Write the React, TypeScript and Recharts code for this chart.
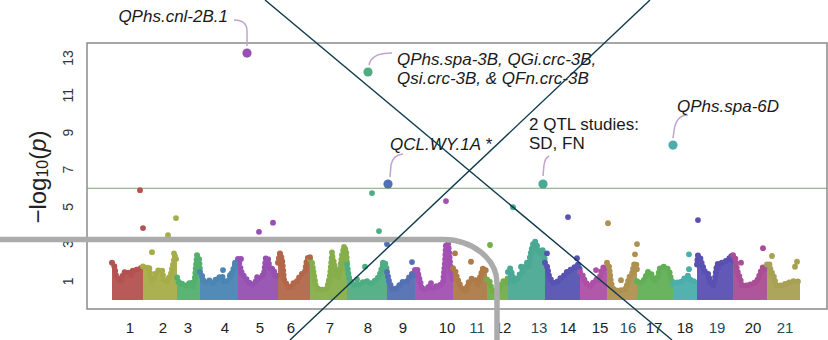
import { ComposedChart, Area, Scatter, XAxis, YAxis, ReferenceLine, ReferenceArea } from "recharts";

// chromosome order along the genome axis (cumulative position units)
const chromLabels = ["1", "2", "3", "4", "5", "6", "7", "8", "9", "10", "11", "12", "13", "14", "15", "16", "17", "18", "19", "20", "21"];
const chromTickPos = [43, 76, 101, 138, 173, 204, 243, 281, 316, 360, 390, 416, 452, 481, 513, 541, 567, 598, 630, 666, 698];
const chromColors = [
	"#b4524f", "#a6ad48", "#52b06c", "#4a85b4", "#9650b2", "#b3674a", "#86ae4b",
	"#4fad82", "#5270b4", "#a250b2", "#ae7a48", "#72ae4a", "#4aa992", "#5653b2",
	"#ad4fa6", "#ae9150", "#62af56", "#4aaeab", "#5a4fb2", "#a94d96", "#a8a052",
];
const tealTicks = ["11", "13", "16", "19", "21"];
const yTicks = [1, 3, 5, 7, 9, 11, 13];
const threshold = 6;

// upper edge of the dense SNP cloud, per chromosome: [position, -log10(p)]
const chromEnvelope: number[][][] = [
	[[25, 2.0], [27, 1.9], [29, 1.3], [32, 1.1], [34, 1.0], [36, 1.4], [38, 1.5], [41, 1.5], [44, 1.3], [46, 1.6], [49, 1.6], [52, 1.7], [55, 1.7], [56, 1.6]],
	[[56, 1.8], [59, 1.7], [62, 1.8], [64, 1.0], [67, 1.1], [69, 1.5], [72, 1.6], [75, 1.6], [77, 1.0], [80, 1.0], [82, 1.2], [84, 1.4], [86, 1.9], [88, 2.4], [90, 2.0]],
	[[90, 1.2], [92, 0.9], [96, 0.85], [100, 0.75], [104, 1.0], [106, 0.7], [108, 1.2], [110, 2.4], [112, 2.2], [113, 1.6]],
	[[113, 1.5], [115, 1.3], [117, 0.9], [120, 1.0], [123, 1.05], [126, 0.9], [129, 1.1], [132, 1.2], [135, 1.3], [137, 0.95], [140, 1.0], [143, 1.2], [146, 1.6], [148, 1.9], [151, 1.8]],
	[[151, 2.2], [153, 1.8], [155, 1.4], [158, 1.2], [161, 1.0], [164, 0.8], [167, 0.85], [170, 1.1], [174, 1.2], [177, 1.4], [179, 2.3], [181, 2.2], [183, 1.6], [186, 1.7], [189, 1.2], [191, 1.3]],
	[[191, 2.0], [193, 2.5], [195, 2.2], [197, 1.1], [200, 0.8], [203, 0.6], [206, 0.9], [209, 0.9], [212, 1.2], [215, 1.4], [218, 1.5], [220, 2.2], [222, 2.3], [223, 2.1]],
	[[223, 2.2], [225, 2.0], [227, 1.3], [229, 0.7], [232, 0.55], [236, 0.55], [240, 0.6], [243, 1.3], [245, 2.4], [247, 2.0], [249, 1.3], [251, 1.2], [253, 1.6], [255, 2.4], [257, 2.8], [259, 2.7], [260, 2.0]],
	[[260, 1.9], [262, 1.2], [265, 0.9], [268, 0.8], [271, 0.8], [274, 0.9], [278, 1.0], [281, 1.0], [284, 0.9], [287, 1.0], [290, 1.1], [293, 1.4], [296, 1.9], [298, 2.0], [300, 1.6]],
	[[300, 1.5], [302, 1.0], [305, 0.6], [308, 0.55], [311, 0.7], [314, 0.9], [317, 1.0], [320, 1.0], [323, 1.3], [326, 1.45], [328, 1.3]],
	[[328, 1.6], [330, 1.7], [332, 1.2], [335, 0.6], [338, 0.55], [341, 0.7], [344, 0.6], [347, 0.7], [350, 0.75], [353, 0.8], [356, 0.9], [358, 2.0], [359, 3.0], [361, 3.05], [362, 2.6], [364, 1.4], [366, 1.1]],
	[[366, 1.7], [368, 1.6], [370, 1.2], [373, 0.8], [376, 0.55], [379, 0.5], [382, 1.0], [385, 1.15], [388, 1.1], [391, 0.8], [393, 1.2], [396, 1.7], [398, 1.7], [400, 1.4]],
	[[400, 1.1], [402, 1.1], [404, 0.7], [406, 0.45], [409, 0.45], [412, 0.5], [414, 0.8], [416, 1.0], [418, 1.0], [420, 0.9], [421, 1.3]],
	[[421, 1.5], [423, 1.7], [425, 1.4], [427, 1.0], [430, 1.1], [433, 1.4], [436, 1.6], [439, 1.9], [441, 1.7], [443, 2.3], [445, 2.8], [447, 3.15], [449, 3.1], [451, 2.7], [453, 2.5], [455, 2.7], [457, 2.6], [458, 2.0]],
	[[458, 2.0], [460, 1.8], [462, 1.3], [465, 0.95], [468, 0.9], [471, 1.0], [474, 1.2], [477, 1.3], [480, 1.5], [483, 1.6], [486, 1.7], [489, 1.8], [491, 1.9], [493, 1.6]],
	[[493, 1.5], [495, 1.4], [498, 1.0], [501, 0.8], [504, 0.75], [507, 1.0], [510, 1.1], [512, 1.0], [514, 1.5], [517, 1.8], [520, 1.7]],
	[[520, 2.0], [522, 1.8], [524, 0.9], [527, 0.5], [530, 0.5], [533, 0.5], [536, 0.55], [539, 0.6], [541, 1.0], [543, 1.3], [545, 1.4], [547, 1.9], [549, 2.0], [550, 1.6]],
	[[550, 1.0], [553, 0.9], [556, 0.95], [559, 1.3], [561, 1.5], [564, 1.45], [567, 1.0], [570, 1.1], [573, 1.7], [576, 1.8], [579, 1.75], [582, 1.6], [584, 1.1], [586, 0.9]],
	[[586, 0.9], [589, 0.95], [592, 0.9], [595, 1.0], [598, 1.2], [601, 1.3], [604, 1.0], [607, 1.0], [610, 1.1]],
	[[610, 1.9], [611, 2.4], [613, 2.3], [615, 1.9], [618, 1.5], [621, 1.4], [624, 0.8], [627, 0.8], [630, 1.9], [633, 2.0], [636, 2.0], [639, 2.1], [642, 2.2], [644, 2.4], [646, 2.1]],
	[[646, 2.4], [648, 2.3], [650, 1.6], [652, 1.3], [655, 0.8], [658, 0.8], [661, 0.75], [664, 0.85], [667, 0.9], [670, 1.0], [673, 1.4], [675, 1.7], [677, 1.8], [680, 1.6]],
	[[680, 1.9], [682, 2.0], [684, 1.5], [686, 1.4], [689, 0.8], [692, 0.75], [695, 0.8], [698, 0.85], [701, 0.9], [704, 1.0], [707, 1.0], [710, 1.0], [713, 0.95]],
];

// isolated SNPs above the cloud
const outlierPos = [53, 56, 65, 81, 87, 89, 136, 143, 148, 154, 170, 172, 176, 186, 193, 223, 245, 257, 270, 278, 285, 292, 296, 300, 325, 344, 359, 368, 384, 403, 426, 434, 440, 460, 481, 490, 509, 521, 534, 548, 550, 602, 602, 611, 631, 654, 676, 685, 708, 710];
const outlierVal = [5.9, 3.86, 2.56, 3.48, 2.5, 4.4, 1.6, 1.33, 2.0, 2.2, 1.22, 3.66, 1.33, 4.15, 2.5, 2.3, 2.55, 2.85, 1.1, 1.78, 5.74, 3.7, 2.0, 3.0, 2.03, 0.9, 5.31, 2.5, 2.05, 2.95, 4.98, 1.78, 2.0, 2.5, 4.45, 2.24, 1.6, 4.12, 1.06, 2.45, 3.0, 2.45, 1.65, 4.29, 1.73, 2.0, 2.78, 2.36, 1.78, 2.05];
const outlierChr = [1, 1, 2, 2, 2, 2, 4, 4, 4, 5, 5, 5, 5, 5, 6, 6, 7, 7, 8, 8, 8, 8, 8, 9, 9, 10, 10, 11, 11, 12, 13, 13, 13, 14, 14, 14, 15, 16, 16, 16, 16, 18, 18, 19, 19, 20, 20, 21, 21, 21];

// significant hits with their QTL annotations
const hitPos = [160, 281, 301, 456, 586];
const hitVal = [13.27, 12.25, 6.23, 6.23, 8.32];
const hitChr = [5, 8, 9, 13, 18];
const hitLabels = [
	["QPhs.cnl-2B.1"],
	["QPhs.spa-3B, QGi.crc-3B,", "Qsi.crc-3B, & QFn.crc-3B"],
	["QCL.WY.1A *"],
	["2 QTL studies:", "SD, FN"],
	["QPhs.spa-6D"],
];

const labelLayout = [
	{ dx: -19, dy: -31, anchor: "end", italic: true, leader: "M0,-7 L0,-22 Q0,-33 -13,-33" },
	{ dx: 29, dy: -7.5, anchor: "start", italic: true, leader: "M1,-7 Q3,-19 24,-19" },
	{ dx: 2, dy: -34, anchor: "start", italic: true, leader: "M2,-7 L3,-19 Q5,-29 15,-30" },
	{ dx: -14, dy: -54, anchor: "start", italic: false, leader: "M0,-8 L1,-19 Q2,-26 6,-28" },
	{ dx: 4, dy: -33.5, anchor: "start", italic: true, leader: "M0,-7 L1,-14 Q3,-30 15,-30" },
];

const FONT = "'Liberation Sans', Arial, sans-serif";

const outliers = outlierPos.map((pos, i) => ({ pos, v: outlierVal[i], chr: outlierChr[i] }));
const hits = hitPos.map((pos, i) => ({ pos, v: hitVal[i], chr: hitChr[i], idx: i }));

const ChromTick = ({ x, payload }: any) => {
	const label = chromLabels[chromTickPos.indexOf(payload.value)];
	return (
		<text x={x} y={333} textAnchor="middle" fontSize={15} fontFamily={FONT} fill={tealTicks.includes(label) ? "#1d4d63" : "#222"}>
			{label}
		</text>
	);
};

const LogTick = ({ y, payload }: any) => (
	<text x={68} y={y} transform={`rotate(-90, 68, ${y})`} textAnchor="middle" dominantBaseline="central" fontSize={14} fontFamily={FONT} fill="#333">
		{payload.value}
	</text>
);

const HitMark = (props: any) => {
	const { cx, cy, payload } = props;
	const lay = labelLayout[payload.idx];
	return (
		<g>
			<path d={lay.leader} transform={`translate(${cx},${cy})`} fill="none" stroke="#c2a3cf" strokeWidth={1.5} />
			<circle cx={cx} cy={cy} r={4.6} fill={chromColors[payload.chr - 1]} />
			{hitLabels[payload.idx].map((line, k) => (
				<text
					key={k}
					x={cx + lay.dx}
					y={cy + lay.dy + k * 19}
					textAnchor={lay.anchor}
					fontSize={17}
					fontStyle={lay.italic ? "italic" : "normal"}
					fontFamily={FONT}
					fill="#1a1a1a"
				>
					{line}
				</text>
			))}
		</g>
	);
};

export default function App() {
	return (
		<div style={{ position: "absolute", left: 0, top: 0, width: 828, height: 340, background: "#fff" }}>
			<ComposedChart width={828} height={340} margin={{ top: 43, right: 1, bottom: 0, left: 0 }}>
				<XAxis
					dataKey="pos"
					type="number"
					domain={[0, 740]}
					ticks={chromTickPos}
					tick={<ChromTick />}
					tickLine={false}
					axisLine={false}
					height={31}
					interval={0}
				/>
				<YAxis
					dataKey="v"
					type="number"
					domain={[-0.49, 13.81]}
					ticks={yTicks}
					tick={<LogTick />}
					tickLine={false}
					axisLine={false}
					width={87}
					interval={0}
				/>
				<ReferenceArea x1={0} x2={740} y1={-0.49} y2={13.81} fill="none" stroke="#8a8a8a" strokeWidth={1.5} />
				<ReferenceLine y={threshold} stroke="#7ea474" strokeWidth={1} />
				{chromEnvelope.map((env, i) => (
					<Area
						key={chromLabels[i]}
						data={env.map(([pos, v]) => ({ pos, v }))}
						dataKey="v"
						type="linear"
						baseValue={0}
						stroke={chromColors[i]}
						strokeWidth={6}
						strokeDasharray="0 4.5"
						strokeLinejoin="round"
						strokeLinecap="round"
						fill={chromColors[i]}
						fillOpacity={0.95}
						dot={false}
						activeDot={false}
						isAnimationActive={false}
					/>
				))}
				<Scatter
					data={outliers}
					dataKey="v"
					isAnimationActive={false}
					shape={(p: any) => <circle cx={p.cx} cy={p.cy} r={2.9} fill={chromColors[p.payload.chr - 1]} />}
				/>
				<Scatter data={hits} dataKey="v" isAnimationActive={false} shape={(p: any) => <HitMark {...p} />} />
			</ComposedChart>
			<svg width={828} height={340} style={{ position: "absolute", left: 0, top: 0, pointerEvents: "none" }}>
				<text x={37} y={177} transform="rotate(-90, 37, 177)" textAnchor="middle" dominantBaseline="central" fontSize={24} fontFamily={FONT} fill="#222">
					−log
					<tspan fontSize={16} dy={5}>10</tspan>
					<tspan dy={-5}>(</tspan>
					<tspan fontStyle="italic">p</tspan>)
				</text>
				<path d="M0,239.5 H443 A54,44 0 0 1 497,283.5 V340" fill="none" stroke="#ababab" strokeWidth={5.5} />
				<line x1={265} y1={0} x2={672} y2={340} stroke="#0e3a4c" strokeWidth={1.4} />
				<line x1={650} y1={0} x2={290} y2={340} stroke="#0e3a4c" strokeWidth={1.4} />
			</svg>
		</div>
	);
}
